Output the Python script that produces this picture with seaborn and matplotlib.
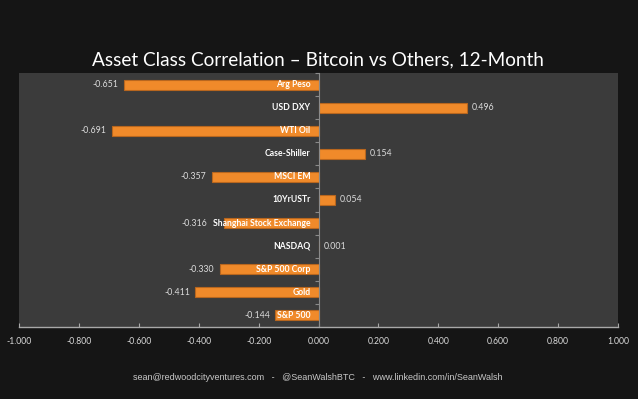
import numpy as np
import pandas as pd
import matplotlib
matplotlib.use("Agg")
import matplotlib.pyplot as plt
import seaborn as sns
from matplotlib.ticker import FuncFormatter

categories = ["Arg Peso", "USD DXY", "WTI Oil", "Case-Shiller", "MSCI EM", "10YrUSTr",
              "Shanghai Stock Exchange", "NASDAQ", "S&P 500 Corp", "Gold", "S&P 500"]
values = [-0.651, 0.496, -0.691, 0.154, -0.357, 0.054, -0.316, 0.001, -0.330, -0.411, -0.144]
x_ticks = [-1.0, -0.8, -0.6, -0.4, -0.2, 0.0, 0.2, 0.4, 0.6, 0.8, 1.0]

title = "Asset Class Correlation \u2013 Bitcoin vs Others, 12-Month"
footer = "sean@redwoodcityventures.com   -   @SeanWalshBTC   -   www.linkedin.com/in/SeanWalsh"

df = pd.DataFrame({"asset": categories, "corr": values})

sns.set_theme(style="dark")
plt.rcParams["font.family"] = ["Lato", "DejaVu Sans"]

fig_bg = "#151515"
ax_bg = "#3b3b3b"
bar_color = "#F08A2A"
edge_color = "#B8661E"
axis_color = "#a8a8a8"

fig = plt.figure(figsize=(6.38, 3.99), dpi=100, facecolor=fig_bg)
ax = fig.add_axes([19/638, 1 - 327/399, (618 - 19)/638, (327 - 73)/399])
ax.set_facecolor(ax_bg)

sns.barplot(data=df, x="corr", y="asset", orient="h", color=bar_color,
            width=0.43, edgecolor=edge_color, linewidth=0.8, saturation=1, ax=ax)

ax.set_xlim(x_ticks[0], x_ticks[-1])
ax.set_ylim(len(categories) - 0.5, -0.5)
ax.set_xlabel("")
ax.set_ylabel("")
ax.grid(False)

# x axis
ax.set_xticks(x_ticks)
ax.xaxis.set_major_formatter(FuncFormatter(lambda v, p: f"{v:.3f}"))
ax.tick_params(axis="x", direction="in", length=3, width=0.8, color=axis_color,
               labelcolor="#d8d8d8", labelsize=6.2, pad=7, bottom=True)

# y axis: spine at zero, ticks at category boundaries
ax.spines["left"].set_position(("data", 0))
ax.spines["left"].set_color("#8a8a8a")
ax.spines["left"].set_linewidth(0.8)
ax.set_yticks(np.arange(-0.5, len(categories), 1.0))
ax.set_yticklabels([])
ax.tick_params(axis="y", direction="out", length=3, width=0.8, color="#8a8a8a", left=True)
ax.spines["bottom"].set_color(axis_color)
ax.spines["bottom"].set_linewidth(1.0)
ax.spines["top"].set_visible(False)
ax.spines["right"].set_visible(False)

fig.canvas.draw()
renderer = fig.canvas.get_renderer()
inv = ax.transData.inverted()

# category labels and value labels
for i, (name, v) in enumerate(zip(categories, values)):
    t = ax.text(-0.027, i, name, ha="right", va="center", color="white",
                fontsize=6.2, fontweight="bold")
    if v < 0:
        bb = t.get_window_extent(renderer=renderer)
        left_x = inv.transform((bb.x0, 0))[0]
        anchor = min(v, left_x)
        ax.text(anchor - 0.017, i, f"{v:.3f}", ha="right", va="center",
                color="#dcdcdc", fontsize=6.3)
    else:
        ax.text(v + 0.017, i, f"{v:.3f}", ha="left", va="center",
                color="#dcdcdc", fontsize=6.3)

fig.text(318/638, 1 - 60/399, title, ha="center", va="center", color="white", fontsize=13.7)
fig.text(318/638, 1 - 378/399, footer, ha="center", va="center", color="#c8c8c8",
         fontsize=6.5, family=["Liberation Sans", "DejaVu Sans"])

fig.savefig("out.png", dpi=100, facecolor=fig_bg)
